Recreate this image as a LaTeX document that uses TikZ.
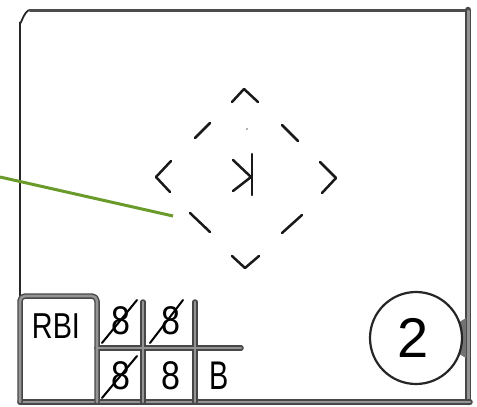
\documentclass[tikz,border=0pt]{standalone}
\usepackage{fontspec}
\usepackage{graphicx}
\setmainfont{Liberation Sans}
\definecolor{leafgreen}{RGB}{106,154,42}
\tikzset{
  % scanned-looking heavy rule: dark rim with a lighter core
  rulerim/.style={line width=5.5pt, draw=black!72, line cap=round, line join=round, rounded corners=5pt},
  rulecore/.style={line width=2.6pt, draw=black!42, line cap=round, line join=round, rounded corners=5pt},
  pen/.style={line width=2.5pt, line cap=round, line join=round, draw=black!90},
  slash/.style={line width=2pt, line cap=round, draw=black},
  digit/.style={inner sep=0pt, font=\fontsize{40}{40}\selectfont},
  label/.style={inner sep=0pt, font=\fontsize{36}{36}\selectfont},
}
\begin{document}
\begin{tikzpicture}[x=1pt, y=-1pt]
\useasboundingbox (0,0) rectangle (477,407);

% outer card frame
\draw[line width=1.8pt, black!85] (20,296) -- (20,22) to[out=-90,in=180] (30,10);
\draw[line width=3pt, black!70, line cap=round] (30,10) -- (466,10);
\draw[rulerim, line width=6.5pt] (468,10) -- (468,402);
\draw[rulecore, line width=3pt] (468,11) -- (468,402);
\draw[rulerim] (20,402) -- (470,402);
\draw[rulecore] (20,402) -- (470,402);

% score box grid
\draw[rulerim] (20,402) -- (20,296) -- (97,296) -- (97,402);
\draw[rulerim] (97,348) -- (241,348);
\draw[rulerim] (143,302) -- (143,402);
\draw[rulerim] (195,302) -- (195,402);
\draw[rulecore] (20,402) -- (20,296) -- (97,296) -- (97,402);
\draw[rulecore] (97,348) -- (241,348);
\draw[rulecore] (143,302) -- (143,402);
\draw[rulecore] (195,302) -- (195,402);

\node[label] (rbi) at (56,326) {\scalebox{0.8}[1]{RBI}};
\node[digit] (c1) at (121,321) {\scalebox{0.85}[1]{8}};
\node[digit] (c2) at (171,321) {\scalebox{0.85}[1]{8}};
\node[digit] (c3) at (121,376) {\scalebox{0.85}[1]{8}};
\node[digit] (c4) at (171,376) {\scalebox{0.85}[1]{8}};
\node[digit] (c5) at (219,376) {\scalebox{0.72}[1]{B}};
\draw[slash] (102,343) -- (137,300);
\draw[slash] (150,343) -- (183,300);
\draw[slash] (102,398) -- (137,356);

% runs circle tied to the right edge
\fill[black!55] (456,324) -- (466,318) -- (466,358) -- (456,352) -- cycle;
\node[circle, draw=black!85, line width=2.2pt, fill=white, minimum size=92pt, inner sep=0pt] (runs) at (416,338) {};
\node[inner sep=0pt, font=\fontsize{56}{56}\selectfont] (runsnum) at (413,338) {2};

% dashed diamond (the field)
\draw[pen] (232,102) -- (244,89) -- (258,102);
\draw[pen] (171,161) -- (156,177) -- (170,192);
\draw[pen] (320,162) -- (336,178) -- (322,193);
\draw[pen] (232,256) -- (245,268) -- (259,256);
\draw[pen] (195,138) -- (210,123);
\draw[pen] (282,125) -- (298,141);
\draw[pen] (190,213) -- (210,232);
\draw[pen] (282,233) -- (302,215);
\fill[black!60] (247,129) circle (0.9pt);

% backwards K (called strikeout)
\coordinate (kmid) at (251,177);
\draw[pen] (252,154) -- (252,195);
\draw[pen] (233,160) -- (kmid) -- (233,191);

% callout line
\coordinate (callout) at (0,177);
\coordinate (field) at (173,216);
\draw[leafgreen, line width=3pt] (callout) -- (field);
\end{tikzpicture}
\end{document}
